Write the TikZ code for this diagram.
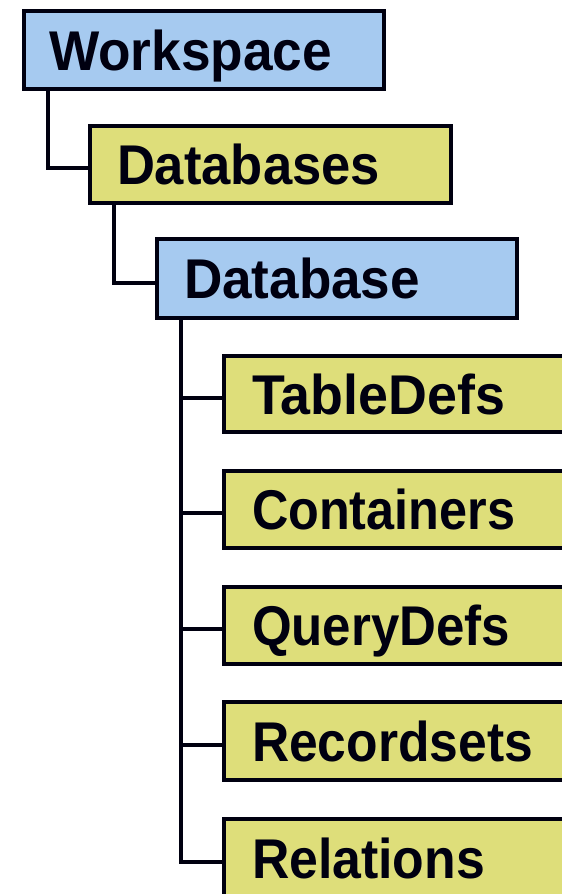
\documentclass[tikz,border=0pt]{standalone}
\usepackage{graphicx}
\usepackage{fontspec}
\setmainfont{Liberation Sans}
\usetikzlibrary{calc}
\definecolor{boxblue}{HTML}{A6CAF0}
\definecolor{boxyellow}{HTML}{DEDE7A}
\definecolor{ink}{HTML}{000010}
\newcommand{\lbl}[2]{\resizebox{#1}{\height}{#2}}
\begin{document}
\begin{tikzpicture}[x=1pt,y=-1pt,
  obj/.style={draw=ink, line width=4pt, rectangle, anchor=north west,
    inner ysep=0pt, text height=40pt, text depth=0pt, align=left,
    font=\fontsize{56}{60}\selectfont\bfseries, text=ink},
  bluebox/.style={obj, fill=boxblue},
  yellowbox/.style={obj, fill=boxyellow},
  childbox/.style={yellowbox, inner xsep=28pt, text width=342pt},
  link/.style={draw=ink, line width=4pt}]
\useasboundingbox (0,0) rectangle (562,894);
\fill[white] (0,0) rectangle (562,894);
\clip (0,0) rectangle (562,894);

\node[bluebox, inner xsep=25pt, text width=309.5pt, minimum height=78pt] (ws) at (22,9) {\lbl{283pt}{Workspace}};
\node[yellowbox, inner xsep=27pt, text width=306.5pt, minimum height=77pt] (dbs) at (88,124) {\lbl{263pt}{Databases}};
\node[bluebox, inner xsep=27pt, text width=305.5pt, minimum height=79pt] (db) at (155,237) {\lbl{236pt}{Database}};

\node[childbox, minimum height=76pt] (td) at (222,354) {\lbl{253pt}{TableDefs}};
\node[childbox, minimum height=77pt] (co) at (222,469) {\lbl{263pt}{Containers}};
\node[childbox, minimum height=77pt] (qd) at (222,585) {\lbl{258pt}{QueryDefs}};
\node[childbox, minimum height=78pt] (rs) at (222,700) {\lbl{281pt}{Recordsets}};
\node[childbox, minimum height=78pt] (re) at (222,817) {\lbl{233pt}{Relations}};

\draw[link] ($(ws.south west)+(26,0)$) |- ($(dbs.west)+(0,3)$);
\draw[link] ($(dbs.south west)+(26,0)$) |- ($(db.west)+(0,4)$);
\coordinate (trunk) at ($(db.south west)+(26,0)$);
\foreach \n in {td,co,qd,rs,re}{
  \coordinate (\n-in) at ($(\n.west)+(0,3.5)$);
}
\draw[link] (trunk) |- (re-in);
\foreach \n in {td,co,qd,rs}{
  \draw[link] (trunk |- \n-in) -- (\n-in);
}
\end{tikzpicture}
\end{document}
